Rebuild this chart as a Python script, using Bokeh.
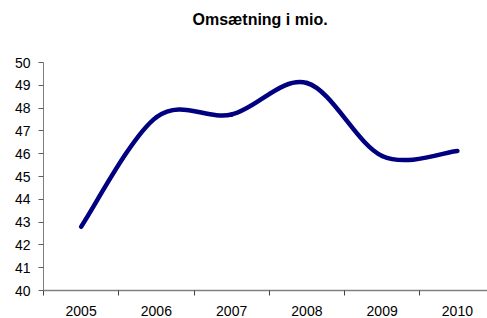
from bokeh.plotting import figure
from bokeh.models import Range1d, FixedTicker, Title
from bokeh.embed import file_html
from bokeh.resources import INLINE

# data
years = ["2005", "2006", "2007", "2008", "2009", "2010"]
values = [42.8, 47.6, 47.72, 49.1, 45.9, 46.12]
y_ticks = [40, 41, 42, 43, 44, 45, 46, 47, 48, 49, 50]
title_text = "Omsætning i mio."

FONT = "Liberation Sans"

xs = [i + 0.5 for i in range(len(years))]
n = len(values)

# Smoothed line (Excel-style) via cubic Bezier segments through the data points
x0, y0, x1, y1, cx0, cy0, cx1, cy1 = [], [], [], [], [], [], [], []
for i in range(n - 1):
    pm = max(i - 1, 0)
    pp = min(i + 2, n - 1)
    x0.append(xs[i]); y0.append(values[i])
    x1.append(xs[i + 1]); y1.append(values[i + 1])
    cx0.append(xs[i] + (xs[i + 1] - xs[pm]) / 6.0)
    cy0.append(values[i] + (values[i + 1] - values[pm]) / 6.0)
    cx1.append(xs[i + 1] - (xs[pp] - xs[i]) / 6.0)
    cy1.append(values[i + 1] - (values[pp] - values[i]) / 6.0)

p = figure(width=487, height=318, output_backend="svg", toolbar_location=None,
           x_range=Range1d(0, 5.9), y_range=Range1d(40, 50),
           min_border_left=43, min_border_right=0, min_border_top=62,
           min_border_bottom=28)
p.outline_line_color = None
p.grid.visible = False
p.background_fill_color = "white"
p.border_fill_color = "white"

p.bezier(x0=x0, y0=y0, x1=x1, y1=y1, cx0=cx0, cy0=cy0, cx1=cx1, cy1=cy1,
         line_color="#000080", line_width=4.5, line_cap="round")

# empty spacer panel between plot area and title
spacer = Title(text=" ", text_font=FONT, text_font_size="14px", standoff=10)
p.add_layout(spacer, "above")

t = Title(text=title_text, align="left", text_font=FONT,
          text_font_size="16px", text_font_style="bold", text_color="black",
          offset=149, standoff=10, vertical_align="top")
p.add_layout(t, "above")

ya = p.yaxis[0]
ya.ticker = FixedTicker(ticks=y_ticks)
ya.axis_line_color = "#808080"
ya.major_tick_line_color = "#606060"
ya.major_tick_out = 5
ya.major_tick_in = 0
ya.minor_tick_line_color = None
ya.major_label_text_font = FONT
ya.major_label_text_font_size = "14px"
ya.major_label_text_color = "black"
ya.major_label_standoff = 8

xa = p.xaxis[0]
xa.ticker = FixedTicker(ticks=xs, minor_ticks=list(range(len(years) + 1)))
xa.major_label_overrides = {x: y for x, y in zip(xs, years)}
xa.axis_line_color = "#808080"
xa.axis_line_width = 1.5
xa.major_tick_line_color = None
xa.minor_tick_line_color = "#404040"
xa.minor_tick_out = 5
xa.minor_tick_in = 0
xa.major_label_text_font = FONT
xa.major_label_text_font_size = "14px"
xa.major_label_text_color = "black"
xa.major_label_standoff = 9

open("out.html", "w").write(file_html(p, INLINE))
